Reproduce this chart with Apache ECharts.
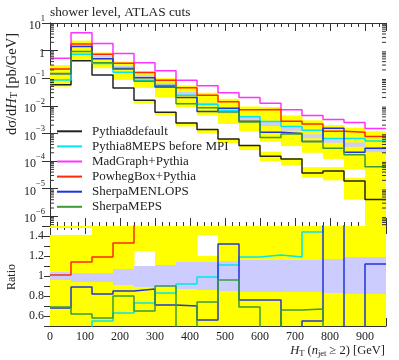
<!DOCTYPE html>
<html><head><meta charset="utf-8">
<script src="https://cdn.jsdelivr.net/npm/echarts@6/dist/echarts.min.js"></script>
<style>html,body{margin:0;padding:0;background:#fff}#c{width:399px;height:360px}</style>
</head><body><div id="c"></div>
<script>
// ---------------- data ----------------
const binEdges = [0, 60, 120, 180, 240, 300, 360, 420, 480, 540, 600, 660, 720, 780, 840, 900, 960];
const xTickLabels = ['0', '100', '200', '300', '400', '500', '600', '700', '800', '900'];
const seriesNames = ['Pythia8default', 'Pythia8MEPS before MPI', 'MadGraph+Pythia', 'PowhegBox+Pythia', 'SherpaMENLOPS', 'SherpaMEPS'];

// dσ/dH_T [pb/GeV] per bin
const pythia8default = [0.058, 0.43, 0.13, 0.044, 0.016, 0.0059, 0.0024, 0.0014, 0.00063, 0.00037, 0.00015, 0.000118, 0.000037, 0.000044, 0.000019, 0.0000041];
const pythia8meps    = [0.087, 0.74, 0.34, 0.166, 0.085, 0.05, 0.024, 0.0115, 0.0068, 0.0040, 0.0027, 0.0018, 0.0013, 0.00066, 0.00066, 0.00053];
const madgraph       = [0.53, 4.4, 1.8, 0.78, 0.36, 0.185, 0.085, 0.053, 0.030, 0.020, 0.0125, 0.0072, 0.0045, 0.0032, 0.0025, 0.0015];
const powheg         = [0.215, 1.75, 0.74, 0.35, 0.16, 0.085, 0.045, 0.024, 0.014, 0.0072, 0.0074, 0.0028, 0.0022, 0.0012, 0.0011, 0.00077];
const sherpaMenlops  = [0.146, 1.40, 0.51, 0.224, 0.105, 0.048, 0.020, 0.0062, 0.0082, 0.0028, 0.0011, 0.0010, 0.00051, 0.00155, 0.00021, 0.00029];
const sherpaMeps     = [0.148, 0.92, 0.36, 0.21, 0.078, 0.055, 0.012, 0.0085, 0.006, 0.0026, 0.00072, 0.00096, 0.00051, 0.00029, 0.00017, 0.000063];

// yellow uncertainty bands (main panel)
const yellowMainLo  = [0.050, 0.43, 0.23, 0.087, 0.045, 0.020, 0.009, 0.0045, 0.0022, 0.0012, 0.0005, 0.00035, 0.0002, 0.00012, 0.00005, 0.00003];
const yellowMainHi  = [0.30, 2.3, 0.85, 0.40, 0.18, 0.10, 0.055, 0.030, 0.018, 0.0095, 0.009, 0.0045, 0.0030, 0.0020, 0.0016, 0.0012];
const yellowBlackLo = [null, null, null, null, 0.012, 0.0045, 0.0018, 0.0010, 0.00045, 0.00025, 0.0001, 0.00007, 0.000025, 0.00002, 0.000004, 0.0000004];
const yellowBlackHi = [null, null, null, null, 0.016, 0.006, 0.0025, 0.0014, 0.00065, 0.00038, 0.00022, 0.00013, 0.00006, 0.00006, 0.000025, 0.00003];
// lavender reference band (main panel)
const refLo = [0.20, 1.45, 0.58, 0.24, 0.107, 0.052, 0.025, 0.010, 0.0053, 0.0031, 0.00185, 0.00126, 0.00067, 0.00046, 0.00033, 0.00021];
const refHi = [0.225, 1.62, 0.66, 0.285, 0.133, 0.065, 0.032, 0.013, 0.0071, 0.0043, 0.0026, 0.00175, 0.00093, 0.00064, 0.00047, 0.00031];

// ratio panel
const ratioPythia8default = [0.3, 0.3, 0.3, 0.3, 0.3, 0.3, 0.3, 0.3, 0.3, 0.3, 0.3, 0.3, 0.3, 0.3, 0.3, 0.3];
const ratioPythia8meps    = [0.40, 0.45, 0.55, 0.63, 0.73, 0.83, 0.92, 0.99, 1.11, 1.19, 1.21, 1.19, 1.44, 2.0, 2.0, 2.0];
const ratioMadgraph       = [2.5, 2.9, 2.9, 3.0, 3.0, 3.2, 3.0, 3.5, 4.0, 5.0, 5.5, 4.8, 5.0, 5.8, 6.0, 5.8];
const ratioPowheg         = [1.01, 1.14, 1.19, 1.33, 1.7, 1.7, 1.7, 1.8, 2.0, 2.0, 3.0, 1.9, 2.4, 2.2, 2.6, 2.9];
const ratioSherpaMenlops  = [0.68, 0.89, 0.82, 0.85, 0.87, 0.71, 0.70, 0.56, 1.32, 0.76, 0.76, 0.45, 0.55, 2.5, 0.3, 1.12];
const ratioSherpaMeps     = [0.69, 0.62, 0.58, 0.80, 0.65, 0.90, 0.40, 0.74, 0.96, 0.69, 0.40, 0.66, 0.67, 0.40, 0.40, 0.40];
const ratioYellowLowLo  = [0.45, 0.45, 0.45, 0.45, 0.45, 0.45, 0.45, 0.45, 0.45, 0.45, 0.45, 0.45, 0.45, 0.45, 0.45, 0.45];
const ratioYellowLowHi  = [1.41, 1.41, 1.55, 1.55, 1.10, 1.55, 1.55, 1.20, 1.55, 1.55, 1.55, 1.55, 1.55, 1.55, 1.55, 1.55];
const ratioYellowHighLo = [1.48, 1.48, null, null, 1.25, null, null, 1.41, null, null, null, null, null, null, null, null];
const ratioYellowHighHi = [1.55, 1.55, null, null, 1.55, null, null, 1.55, null, null, null, null, null, null, null, null];
const ratioRefLo = [0.96, 0.94, 0.94, 0.91, 0.89, 0.89, 0.87, 0.86, 0.85, 0.84, 0.84, 0.84, 0.84, 0.83, 0.82, 0.82];
const ratioRefHi = [1.04, 1.03, 1.03, 1.07, 1.10, 1.11, 1.14, 1.14, 1.15, 1.16, 1.16, 1.16, 1.16, 1.17, 1.19, 1.19];

// ---------------- styling ----------------
const FONT = '"Liberation Serif", "DejaVu Serif", serif';
const AX = '#333';
const colors = ['#222222', '#00e5ee', '#ff33ff', '#ff2a00', '#2233dd', '#3a9a3a'];
const mainVals = [pythia8default, pythia8meps, madgraph, powheg, sherpaMenlops, sherpaMeps];
const ratioVals = [ratioPythia8default, ratioPythia8meps, ratioMadgraph, ratioPowheg, ratioSherpaMenlops, ratioSherpaMeps];

function stepData(vals) {
  const d = vals.map((v, i) => [binEdges[i], v]);
  d.push([binEdges[binEdges.length - 1], vals[vals.length - 1]]);
  return d;
}
function band(lo, hi, color, xi, yi, z) {
  const data = [];
  lo.forEach((l, i) => { if (l != null && hi[i] != null) data.push([binEdges[i], binEdges[i + 1], l, hi[i]]); });
  return {
    type: 'custom', xAxisIndex: xi, yAxisIndex: yi, z: z, silent: true,
    data: data, encode: { x: [0, 1], y: [2, 3] },
    renderItem: function (params, api) {
      const p1 = api.coord([api.value(0), api.value(3)]);
      const p2 = api.coord([api.value(1), api.value(2)]);
      const cs = params.coordSys;
      const r = echarts.graphic.clipRectByRect(
        { x: p1[0], y: p1[1], width: p2[0] - p1[0] + 0.5, height: p2[1] - p1[1] },
        { x: cs.x, y: cs.y, width: cs.width, height: cs.height });
      return r && { type: 'rect', shape: r, style: { fill: color } };
    }
  };
}
// minor log ticks (2..9 x 10^k) drawn on the main panel's log axis
const minorLogVals = [];
for (let k = -7; k <= 0; k++) for (let m = 2; m <= 9; m++) minorLogVals.push(m * Math.pow(10, k));
function minorTicks() {
  return {
    type: 'custom', xAxisIndex: 0, yAxisIndex: 0, z: 20, silent: true,
    data: minorLogVals.map(v => [0, v]),
    renderItem: function (params, api) {
      const cs = params.coordSys;
      const y = api.coord([0, api.value(1)])[1];
      if (y < cs.y || y > cs.y + cs.height) return;
      return { type: 'group', children: [
        { type: 'line', shape: { x1: cs.x, y1: y, x2: cs.x + 4, y2: y }, style: { stroke: AX, lineWidth: 1 } },
        { type: 'line', shape: { x1: cs.x + cs.width - 4, y1: y, x2: cs.x + cs.width, y2: y }, style: { stroke: AX, lineWidth: 1 } }
      ]};
    }
  };
}

const supRich = {
  b: { fontFamily: FONT, fontSize: 12, color: '#222', lineHeight: 18, verticalAlign: 'bottom' },
  s: { fontFamily: FONT, fontSize: 8.5, color: '#222', lineHeight: 9, verticalAlign: 'top' }
};
function logLabel(v) {
  const e = Math.log10(v);
  const k = Math.round(e);
  if (Math.abs(e - k) > 1e-6) return '';
  if (k === 0) return '{b|1}';
  return '{b|10}{s|' + (k < 0 ? '\u2212' + (-k) : k) + '}';
}

const xCommon = { type: 'value', min: 0, max: 960, interval: 100, splitLine: { show: false },
  axisLine: { show: true, onZero: false, lineStyle: { color: AX, width: 1 } },
  axisTick: { show: true, inside: true, length: 8, lineStyle: { color: AX } },
  minorTick: { show: true, splitNumber: 5, length: 4, lineStyle: { color: AX } },
  axisLabel: { show: false } };
const yLogCommon = { type: 'log', logBase: 10, min: Math.pow(10, -6.35), max: 10, splitLine: { show: false },
  axisLine: { show: true, lineStyle: { color: AX, width: 1 } },
  axisTick: { show: true, inside: true, length: 8, lineStyle: { color: AX } },
  axisLabel: { show: false } };
const yRatioCommon = { type: 'value', min: 0.5, max: 1.5, interval: 0.1, splitLine: { show: false },
  axisLine: { show: true, lineStyle: { color: AX, width: 1 } },
  axisTick: { show: true, inside: true, length: 6, lineStyle: { color: AX } },
  axisLabel: { show: false } };

const series = [];
series.push(band(yellowMainLo, yellowMainHi, '#ffff00', 0, 0, 1));
series.push(band(yellowBlackLo, yellowBlackHi, '#ffff00', 0, 0, 1));
series.push(band(refLo, refHi, '#ccccff', 0, 0, 2));
series.push(band(ratioYellowLowLo, ratioYellowLowHi, '#ffff00', 2, 2, 1));
series.push(band(ratioYellowHighLo, ratioYellowHighHi, '#ffff00', 2, 2, 1));
series.push(band(ratioRefLo, ratioRefHi, '#ccccff', 2, 2, 2));
seriesNames.forEach((name, i) => {
  series.push({ name: name, type: 'line', xAxisIndex: 0, yAxisIndex: 0, step: 'end', z: 5 + i,
    showSymbol: false, symbol: 'none', clip: true, data: stepData(mainVals[i]),
    lineStyle: { color: colors[i], width: 1.5 }, itemStyle: { color: colors[i] } });
  series.push({ name: name + ' ratio', type: 'line', xAxisIndex: 2, yAxisIndex: 2, step: 'end', z: 5 + i,
    showSymbol: false, symbol: 'none', clip: true, data: stepData(ratioVals[i]),
    lineStyle: { color: colors[i], width: 1.5 }, itemStyle: { color: colors[i] } });
});
series.push(minorTicks());

const chart = echarts.init(document.getElementById('c'), null, { renderer: 'canvas' });
chart.setOption({
  animation: false,
  backgroundColor: '#fff',
  grid: [
    { left: 50, top: 23, width: 336, height: 203 },
    { left: 50, top: 226, width: 336, height: 100 }
  ],
  xAxis: [
    Object.assign({}, xCommon, { gridIndex: 0, position: 'bottom' }),
    Object.assign({}, xCommon, { gridIndex: 0, position: 'top' }),
    Object.assign({}, xCommon, { gridIndex: 1, position: 'bottom',
      axisLabel: { show: true, margin: 5, fontFamily: FONT, fontSize: 12, color: '#222',
        formatter: v => (xTickLabels.indexOf(String(v)) >= 0 ? String(v) : '') } }),
    Object.assign({}, xCommon, { gridIndex: 1, position: 'top' })
  ],
  yAxis: [
    Object.assign({}, yLogCommon, { gridIndex: 0, position: 'left',
      axisLabel: { show: true, margin: 5, showMinLabel: false, formatter: logLabel, rich: supRich } }),
    Object.assign({}, yLogCommon, { gridIndex: 0, position: 'right' }),
    Object.assign({}, yRatioCommon, { gridIndex: 1, position: 'left',
      axisLabel: { show: true, margin: 6, fontFamily: FONT, fontSize: 12, color: '#222',
        formatter: v => { const r = Math.round(v * 10) / 10; return [0.6, 0.8, 1, 1.2, 1.4].indexOf(r) >= 0 ? String(r) : ''; } } }),
    Object.assign({}, yRatioCommon, { gridIndex: 1, position: 'right' })
  ],
  legend: {
    orient: 'vertical', left: 57, top: 124, padding: 0, itemGap: 0.5, itemWidth: 25, itemHeight: 2,
    icon: 'rect',
    data: seriesNames, selectedMode: false,
    textStyle: { fontFamily: FONT, fontSize: 13, color: '#222', padding: [0, 0, 0, 5], lineHeight: 14.6 }
  },
  graphic: [
    { type: 'text', left: 50, top: 6, style: { text: 'shower level, ATLAS cuts', font: '13.3px ' + FONT, fill: '#222' } },
    { type: 'text', x: 12, y: 84, rotation: Math.PI / 2,
      style: { text: 'd\u03c3/d{i|H}{sub|T} [pb/GeV]', align: 'center', verticalAlign: 'middle',
        font: '14.5px ' + FONT, fill: '#222',
        rich: { i: { fontFamily: FONT, fontSize: 14.5, fontStyle: 'italic', lineHeight: 15, verticalAlign: 'top' },
                sub: { fontFamily: FONT, fontSize: 10, lineHeight: 8, verticalAlign: 'bottom' } } } },
    { type: 'text', x: 12, y: 277, rotation: Math.PI / 2,
      style: { text: 'Ratio', align: 'center', verticalAlign: 'middle', font: '12px ' + FONT, fill: '#222' } },
    { type: 'text', x: 385, y: 351,
      style: { text: '{i|H}{sub|T} ({i|n}{sub|jet} \u2265 2) [GeV]', align: 'right', verticalAlign: 'middle',
        font: '12.5px ' + FONT, fill: '#222',
        rich: { i: { fontFamily: FONT, fontSize: 12.5, fontStyle: 'italic', lineHeight: 14, verticalAlign: 'top' },
                sub: { fontFamily: FONT, fontSize: 8.5, lineHeight: 7, verticalAlign: 'bottom' } } } }
  ],
  series: series
});
</script>
</body></html>
